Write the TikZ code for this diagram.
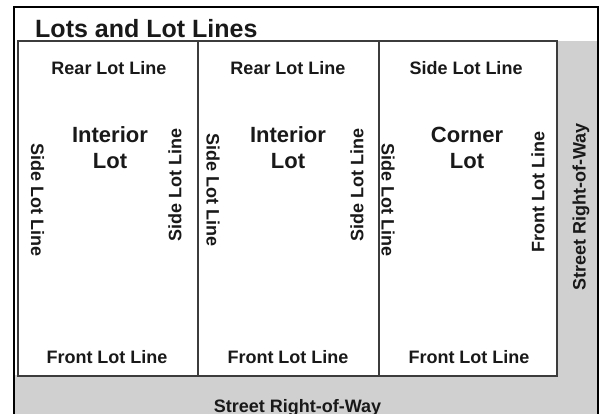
\documentclass[tikz,border=0pt]{standalone}
\usepackage{fontspec}
\setmainfont{Liberation Sans}
\definecolor{rowgray}{RGB}{208,208,208}
\definecolor{lotedge}{RGB}{60,60,60}
\definecolor{ink}{RGB}{25,25,25}
\tikzset{
  lotbox/.style={draw=lotedge, line width=1.3pt, fill=white, rectangle,
    minimum height=335pt, inner sep=0pt, outer sep=0pt, anchor=north west},
  linelabel/.style={font=\fontsize{18}{20}\selectfont\bfseries, text=ink, inner sep=0pt},
  lotname/.style={font=\fontsize{22}{26}\selectfont\bfseries, text=ink, inner sep=0pt,
    align=center},
}
\begin{document}
\begin{tikzpicture}[x=1pt, y=-1pt]
  \useasboundingbox (0,0) rectangle (605,413);
  \clip (0,0) rectangle (605,413);
  % street right-of-way (grey L-shape) and white title band
  \fill[rowgray] (14,41) rectangle (598,430);
  \fill[white] (14,41) rectangle (557,375);
  % the three lots
  \node[lotbox, minimum width=180pt] (lot1) at (18,41) {};
  \node[lotbox, minimum width=181pt] (lot2) at (198,41) {};
  \node[lotbox, minimum width=178pt] (lot3) at (379,41) {};
  % outer frame
  \draw[line width=2.4pt, black] (14,430) -- (14,7) -- (598,7) -- (598,430);
  % title
  \node[anchor=base west, inner sep=0pt, text=ink,
        font=\fontsize{25}{28}\selectfont\bfseries] (title) at (35,37) {Lots and Lot Lines};
  % rear / side lines along the top
  \node[linelabel, anchor=base] (rear1) at (109,74) {Rear Lot Line};
  \node[linelabel, anchor=base] (rear2) at (288,74) {Rear Lot Line};
  \node[linelabel, anchor=base] (top3) at (466,74) {Side Lot Line};
  % lot names
  \node[lotname, anchor=base] (name1) at (110,142) {Interior};
  \node[lotname, anchor=base] (name1b) at (110,168) {Lot};
  \node[lotname, anchor=base] (name2) at (288,142) {Interior};
  \node[lotname, anchor=base] (name2b) at (288,168) {Lot};
  \node[lotname, anchor=base] (name3) at (467,142) {Corner};
  \node[lotname, anchor=base] (name3b) at (467,168) {Lot};
  % front lines along the bottom
  \node[linelabel, anchor=base] (front1) at (107,363) {Front Lot Line};
  \node[linelabel, anchor=base] (front2) at (288,363) {Front Lot Line};
  \node[linelabel, anchor=base] (front3) at (469,363) {Front Lot Line};
  % vertical side labels
  \node[linelabel, rotate=-90] (side1l) at (37.5,200) {Side Lot Line};
  \node[linelabel, rotate=90] (side1r) at (175,185) {Side Lot Line};
  \node[linelabel, rotate=-90] (side2l) at (213,190) {Side Lot Line};
  \node[linelabel, rotate=90] (side2r) at (357,185) {Side Lot Line};
  \node[linelabel, rotate=-90] (side3l) at (388,200) {Side Lot Line};
  \node[linelabel, rotate=90] (front3r) at (538,192) {Front Lot Line};
  % street labels
  \node[linelabel, rotate=90] (rowside) at (581,207) {Street Right-of-Way};
  \node[linelabel, anchor=base] (rowbottom) at (297.5,412) {Street Right-of-Way};
\end{tikzpicture}
\end{document}
